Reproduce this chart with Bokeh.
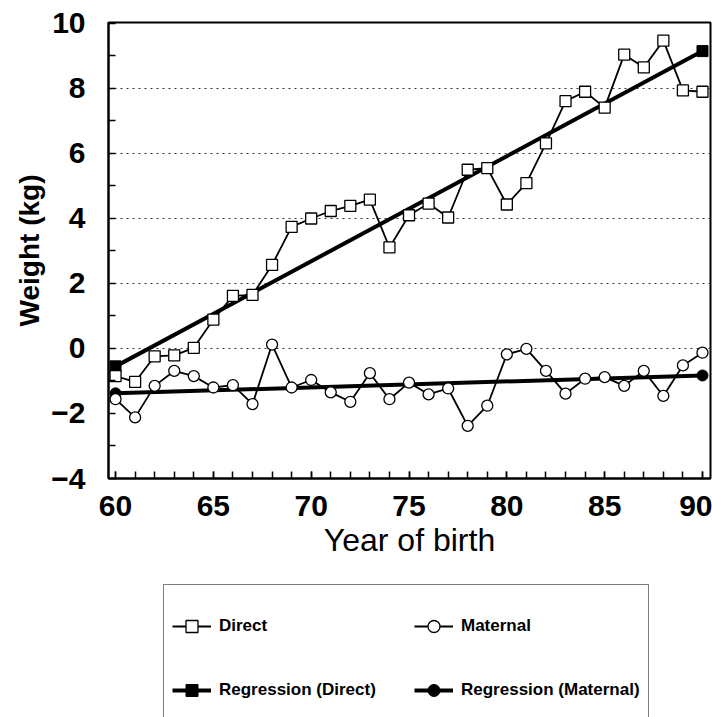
from bokeh.plotting import figure
from bokeh.layouts import column
from bokeh.models import Legend, LegendItem, FixedTicker, Range1d
from bokeh.embed import file_html
from bokeh.resources import INLINE

years = list(range(60, 91))
direct = [-0.85, -1.03, -0.24, -0.21, 0.02, 0.89, 1.62, 1.65, 2.57, 3.74,
          4.00, 4.23, 4.39, 4.58, 3.11, 4.10, 4.46, 4.03, 5.50, 5.55,
          4.43, 5.09, 6.31, 7.61, 7.90, 7.41, 9.04, 8.65, 9.47, 7.94, 7.90]
maternal = [-1.56, -2.12, -1.15, -0.69, -0.85, -1.20, -1.13, -1.71, 0.12, -1.20,
            -0.97, -1.35, -1.64, -0.76, -1.56, -1.05, -1.41, -1.23, -2.38, -1.76,
            -0.18, -0.01, -0.69, -1.39, -0.93, -0.88, -1.15, -0.69, -1.46, -0.52, -0.13]
reg_years = [60, 90]
reg_direct = [-0.55, 9.15]
reg_maternal = [-1.38, -0.83]

x_major = [60, 65, 70, 75, 80, 85, 90]
y_major = [-4, -2, 0, 2, 4, 6, 8, 10]
y_minor = [-3, -1, 1, 3, 5, 7, 9]
y_grid = [0, 2, 4, 6, 8]

FONT = "Liberation Sans"

p = figure(width=712, height=575, x_range=Range1d(59.64, 90.41), y_range=Range1d(-4, 10.03),
           output_backend="svg", toolbar_location=None,
           min_border_left=108, min_border_right=2, min_border_top=22, min_border_bottom=97)
p.frame_align = False

p.outline_line_color = "black"
p.outline_line_width = 2
p.xgrid.visible = False
p.ygrid.ticker = FixedTicker(ticks=y_grid)
p.ygrid.grid_line_color = "#333333"
p.ygrid.grid_line_dash = "2 4"
p.ygrid.grid_line_width = 1

p.xaxis.ticker = FixedTicker(ticks=x_major, minor_ticks=years)
p.yaxis.ticker = FixedTicker(ticks=y_major, minor_ticks=y_minor)
for ax in (p.xaxis[0], p.yaxis[0]):
    ax.axis_line_color = "black"
    ax.axis_line_width = 2
    ax.major_tick_in = 7
    ax.major_tick_out = 0
    ax.minor_tick_in = 7
    ax.minor_tick_out = 0
    ax.major_tick_line_width = 1.5
    ax.minor_tick_line_width = 1.5
    ax.major_label_text_font = FONT
    ax.major_label_text_font_style = "bold"
    ax.major_label_text_font_size = "30px"
    ax.major_label_text_color = "black"
    ax.axis_label_text_font = FONT
    ax.axis_label_text_color = "black"

p.xaxis.axis_label = "Year of birth"
p.xaxis.axis_label_text_font_style = "normal"
p.xaxis.axis_label_text_font_size = "32px"
p.xaxis.major_label_standoff = 17
p.xaxis.axis_label_standoff = 3

p.yaxis.axis_label = "Weight (kg)"
p.yaxis.axis_label_text_font_style = "bold"
p.yaxis.axis_label_text_font_size = "28px"
p.yaxis.major_label_standoff = 23
p.yaxis.axis_label_standoff = 3

REG = dict(line_color="black", line_width=4)
REG_MK = dict(size=11, fill_color="black", line_color="black")
SER = dict(line_color="black", line_width=1.8)
SER_MK = dict(size=11, fill_color="white", line_color="black", line_width=1.3)

p.line(reg_years, reg_direct, **REG)
p.scatter(reg_years, reg_direct, marker="square", **REG_MK)
p.line(reg_years, reg_maternal, **REG)
p.scatter(reg_years, reg_maternal, marker="circle", **REG_MK)
p.line(years, direct, **SER)
p.scatter(years, direct, marker="square", **SER_MK)
p.line(years, maternal, **SER)
p.scatter(years, maternal, marker="circle", **SER_MK)

# Legend panel below the chart (its renderers hold the same data but lie outside its view)
q = figure(width=712, height=142, x_range=Range1d(0, 1), y_range=Range1d(100, 101),
           output_backend="svg", toolbar_location=None,
           x_axis_location=None, y_axis_location=None,
           min_border_left=154, min_border_right=0, min_border_top=0, min_border_bottom=0)
q.frame_align = False
q.outline_line_color = None
q.xgrid.visible = False
q.ygrid.visible = False

dl = q.line(years, direct, **SER)
ds = q.scatter(years, direct, marker="square", **SER_MK)
ml = q.line(years, maternal, **SER)
ms = q.scatter(years, maternal, marker="circle", **SER_MK)
rd = q.line(reg_years, reg_direct, **REG)
rds = q.scatter(reg_years, reg_direct, marker="square", **REG_MK)
rm = q.line(reg_years, reg_maternal, **REG)
rms = q.scatter(reg_years, reg_maternal, marker="circle", **REG_MK)
dummy = q.line(reg_years, reg_direct, line_alpha=0)

legend = Legend(items=[
    LegendItem(label="Direct", renderers=[dl, ds]),
    LegendItem(label="Regression (Direct)", renderers=[rd, rds]),
    LegendItem(label=" ", renderers=[dummy]),
    LegendItem(label="Maternal", renderers=[ml, ms]),
    LegendItem(label="Regression (Maternal)", renderers=[rm, rms]),
], ncols=2, location="top_left")
legend.label_text_font = FONT
legend.label_text_font_style = "bold"
legend.label_text_font_size = "17px"
legend.label_text_color = "black"
legend.glyph_width = 39
legend.glyph_height = 30
legend.label_height = 30
legend.label_width = 161
legend.label_standoff = 8
legend.spacing = 34
legend.padding = 8
legend.margin = 9
legend.title = " "
legend.title_text_font_size = "13px"
legend.title_standoff = 3
legend.border_line_color = "black"
legend.border_line_width = 1.5
legend.background_fill_color = "white"
legend.background_fill_alpha = 1
q.add_layout(legend, "center")

open("out.html", "w").write(file_html(column(p, q), INLINE))
